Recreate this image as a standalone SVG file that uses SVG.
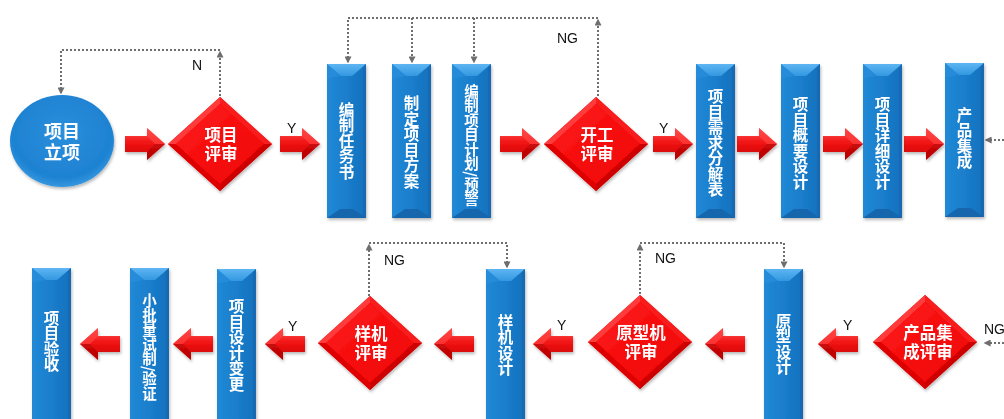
<svg xmlns="http://www.w3.org/2000/svg" xmlns:xlink="http://www.w3.org/1999/xlink" width="1004" height="419" viewBox="0 0 1004 419">
<style>
.t{font-family:"Noto Sans CJK SC","Noto Sans",sans-serif;font-weight:bold;fill:#ffffff;text-anchor:middle}
.v{writing-mode:vertical-rl;font-size:15.5px}
.d{font-family:"Liberation Sans","Noto Sans CJK SC",sans-serif;font-size:16.5px}
.lbl{font-family:"Liberation Sans",Arial,sans-serif;font-size:14px;fill:#111111}
.dot{fill:none;stroke:#6e6e6e;stroke-width:2;stroke-dasharray:2 2}
</style>
<defs>
<filter id="sh" x="-20%" y="-20%" width="140%" height="140%">
<feDropShadow dx="1" dy="2" stdDeviation="1.5" flood-color="#000" flood-opacity="0.28"/>
</filter>
<linearGradient id="boxBody" x1="0" y1="0" x2="1" y2="0">
<stop offset="0" stop-color="#2189d6"/><stop offset="0.5" stop-color="#1a7ecc"/><stop offset="1" stop-color="#1670bc"/>
</linearGradient>
<linearGradient id="boxTop" x1="0" y1="0" x2="0" y2="1">
<stop offset="0" stop-color="#5db5f2"/><stop offset="1" stop-color="#3398e0"/>
</linearGradient>
<radialGradient id="ell" cx="0.5" cy="0.42" r="0.6">
<stop offset="0" stop-color="#2a8fdc"/><stop offset="0.8" stop-color="#1e82d2"/><stop offset="1" stop-color="#3a9be2"/>
</radialGradient>
<linearGradient id="redIn" x1="0" y1="0" x2="1" y2="1">
<stop offset="0" stop-color="#ff1c1c"/><stop offset="1" stop-color="#ee0000"/>
</linearGradient>
<linearGradient id="arr" x1="0" y1="0" x2="0" y2="1">
<stop offset="0" stop-color="#ff5a5a"/><stop offset="0.45" stop-color="#f21414"/><stop offset="1" stop-color="#c80000"/>
</linearGradient>
<marker id="ah" viewBox="0 0 10 10" refX="8" refY="5" markerWidth="7" markerHeight="7" markerUnits="userSpaceOnUse" orient="auto">
<path d="M0,0 L10,5 L0,10 z" fill="#6e6e6e"/>
</marker>
<g id="box">
<rect x="0" y="0" width="39" height="154" fill="url(#boxBody)"/>
<polygon points="0,0 39,0 25,12 14,12" fill="url(#boxTop)"/>
<polygon points="0,0 14,12 3,14 0,14" fill="#2a90dc" opacity="0.6"/>
<polygon points="39,0 39,154 36,151 36,3" fill="#1262a8" opacity="0.5"/>
<polygon points="0,154 39,154 26,145 13,145" fill="#1466ad"/>
</g>
<g id="boxL">
<rect x="0" y="0" width="39" height="170" fill="url(#boxBody)"/>
<polygon points="0,0 39,0 25,12 14,12" fill="url(#boxTop)"/>
<polygon points="0,0 14,12 3,14 0,14" fill="#2a90dc" opacity="0.6"/>
<polygon points="39,0 39,170 36,170 36,3" fill="#1262a8" opacity="0.5"/>
</g>
<g id="dia">
<polygon points="0,-47 52,0 0,47 -52,0" fill="#ec0000"/>
<polygon points="-52,0 0,-47 0,-40 -44,0" fill="#ff3a3a"/>
<polygon points="0,-47 52,0 44,0 0,-40" fill="#f81c1c"/>
<polygon points="52,0 0,47 0,40 44,0" fill="#cc0000"/>
<polygon points="0,47 -52,0 -44,0 0,40" fill="#de0000"/>
<polygon points="0,-40 44,0 0,40 -44,0" fill="url(#redIn)"/>
</g>
<g id="arR">
<polygon points="0,-8 22,-8 22,-16 40,0 22,16 22,8 0,8" fill="url(#arr)"/>
<polygon points="22,-16 40,0 30,0 22,-8" fill="#ff4040" opacity="0.7"/>
<polygon points="40,0 22,16 22,8 30,0" fill="#a80000" opacity="0.5"/>
</g>
</defs>

<g id="connectors">
<path class="dot" d="M220,96 V52" marker-end="url(#ah)"/>
<path class="dot" d="M220,50 H61 V93" marker-end="url(#ah)"/>
<path class="dot" d="M598,96 V20" marker-end="url(#ah)"/>
<path class="dot" d="M598,18 H348 V62" marker-end="url(#ah)"/>
<path class="dot" d="M412,18 V62" marker-end="url(#ah)"/>
<path class="dot" d="M474,18 V62" marker-end="url(#ah)"/>
<path class="dot" d="M1004,140 H986" marker-end="url(#ah)"/>
<path class="dot" d="M369,296 V245" marker-end="url(#ah)"/>
<path class="dot" d="M369,243 H507 V267" marker-end="url(#ah)"/>
<path class="dot" d="M640,294 V245" marker-end="url(#ah)"/>
<path class="dot" d="M640,243 H784 V267" marker-end="url(#ah)"/>
<path class="dot" d="M1004,343 H985" marker-end="url(#ah)"/>
<g filter="url(#sh)">
<use xlink:href="#arR" transform="translate(125,144)"/>
<use xlink:href="#arR" transform="translate(280,144)"/>
<use xlink:href="#arR" transform="translate(500,144)"/>
<use xlink:href="#arR" transform="translate(653,144)"/>
<use xlink:href="#arR" transform="translate(737,144)"/>
<use xlink:href="#arR" transform="translate(823,144)"/>
<use xlink:href="#arR" transform="translate(904,144)"/>
<use xlink:href="#arR" transform="translate(120,344) scale(-1,1)"/>
<use xlink:href="#arR" transform="translate(213,344) scale(-1,1)"/>
<use xlink:href="#arR" transform="translate(305,344) scale(-1,1)"/>
<use xlink:href="#arR" transform="translate(474,344) scale(-1,1)"/>
<use xlink:href="#arR" transform="translate(573,344) scale(-1,1)"/>
<use xlink:href="#arR" transform="translate(745,344) scale(-1,1)"/>
<use xlink:href="#arR" transform="translate(858,344) scale(-1,1)"/>
</g>
<text class="lbl" x="192" y="70">N</text>
<text class="lbl" x="287" y="133">Y</text>
<text class="lbl" x="557" y="43">NG</text>
<text class="lbl" x="659" y="133">Y</text>
<text class="lbl" x="288" y="331">Y</text>
<text class="lbl" x="384" y="265">NG</text>
<text class="lbl" x="557" y="330">Y</text>
<text class="lbl" x="655" y="263">NG</text>
<text class="lbl" x="843" y="330">Y</text>
<text class="lbl" x="984" y="334">NG</text>
</g>

<g id="n-lixiang" filter="url(#sh)">
<ellipse cx="62" cy="141" rx="52" ry="46" fill="url(#ell)"/>
<text class="t d" style="font-size:18px"><tspan x="62" y="138">项目</tspan><tspan x="62" y="159">立项</tspan></text>
</g>
<g id="n-xmps" filter="url(#sh)">
<use xlink:href="#dia" transform="translate(220,144)"/>
<text class="t d"><tspan x="221" y="140.5">项目</tspan><tspan x="221" y="160">评审</tspan></text>
</g>
<g id="n-rws" filter="url(#sh)">
<use xlink:href="#box" x="327" y="64"/>
<text class="t v" x="346.5" y="141">编制任务书</text>
</g>
<g id="n-fa" filter="url(#sh)">
<use xlink:href="#box" x="392" y="64"/>
<text class="t v" x="411.5" y="142">制定项目方案</text>
</g>
<g id="n-jh" filter="url(#sh)">
<use xlink:href="#box" x="452" y="64"/>
<text class="t v" x="471.5" y="145" style="font-size:14.5px">编制项目计划/预警</text>
</g>
<g id="n-kgps" filter="url(#sh)">
<use xlink:href="#dia" transform="translate(596,144)"/>
<text class="t d"><tspan x="597" y="140.5">开工</tspan><tspan x="597" y="160">评审</tspan></text>
</g>
<g id="n-xq" filter="url(#sh)">
<use xlink:href="#box" x="696" y="64"/>
<text class="t v" x="715.5" y="143">项目需求分解表</text>
</g>
<g id="n-gy" filter="url(#sh)">
<use xlink:href="#box" x="781" y="64"/>
<text class="t v" x="800.5" y="143">项目概要设计</text>
</g>
<g id="n-xx" filter="url(#sh)">
<use xlink:href="#box" x="863" y="64"/>
<text class="t v" x="882.5" y="143">项目详细设计</text>
</g>
<g id="n-jc" filter="url(#sh)">
<use xlink:href="#box" x="945" y="63"/>
<text class="t v" x="964.5" y="138">产品集成</text>
</g>

<g id="n-ys" filter="url(#sh)">
<use xlink:href="#boxL" x="32" y="268"/>
<text class="t v" x="51.5" y="341">项目验收</text>
</g>
<g id="n-xpl" filter="url(#sh)">
<use xlink:href="#boxL" x="130" y="268"/>
<text class="t v" x="149.5" y="347" style="font-size:14.5px">小批量试制/验证</text>
</g>
<g id="n-bg" filter="url(#sh)">
<use xlink:href="#boxL" x="217" y="269"/>
<text class="t v" x="236.5" y="345">项目设计变更</text>
</g>
<g id="n-yjps" filter="url(#sh)">
<use xlink:href="#dia" transform="translate(370,343)"/>
<text class="t d"><tspan x="371" y="339.5">样机</tspan><tspan x="371" y="359">评审</tspan></text>
</g>
<g id="n-yjsj" filter="url(#sh)">
<use xlink:href="#boxL" x="486" y="269"/>
<text class="t v" x="505.5" y="345">样机设计</text>
</g>
<g id="n-yxjps" filter="url(#sh)">
<use xlink:href="#dia" transform="translate(640,342)"/>
<text class="t d"><tspan x="641" y="338.5">原型机</tspan><tspan x="641" y="358">评审</tspan></text>
</g>
<g id="n-yxsj" filter="url(#sh)">
<use xlink:href="#boxL" x="764" y="269"/>
<text class="t v" x="783.5" y="344">原型设计</text>
</g>
<g id="n-jcps" filter="url(#sh)">
<use xlink:href="#dia" transform="translate(925,342)"/>
<text class="t d"><tspan x="928" y="338.5">产品集</tspan><tspan x="928" y="358">成评审</tspan></text>
</g>
</svg>
